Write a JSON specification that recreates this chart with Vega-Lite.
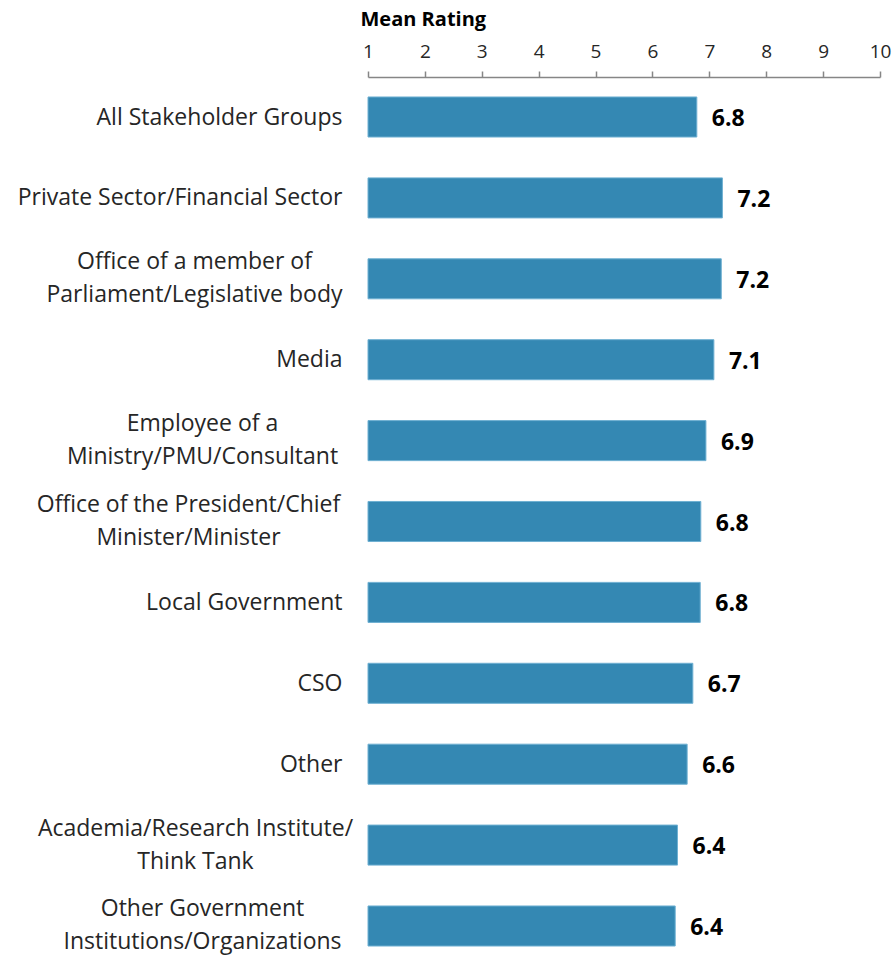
{
  "$schema": "https://vega.github.io/schema/vega-lite/v6.json",
  "width": 512,
  "height": 878,
  "autosize": {"type": "none"},
  "padding": {"left": 368, "top": 77, "right": 14, "bottom": 0},
  "background": "white",
  "config": {"view": {"stroke": null}, "font": "Open Sans"},
  "data": {
    "values": [
      {"group": "All Stakeholder Groups", "rating": 6.78},
      {"group": "Private Sector/Financial Sector", "rating": 7.23},
      {"group": "Office of a member of|Parliament/Legislative body", "rating": 7.21},
      {"group": "Media", "rating": 7.08},
      {"group": "Employee of a|Ministry/PMU/Consultant", "rating": 6.94},
      {"group": "Office of the President/Chief|Minister/Minister", "rating": 6.85},
      {"group": "Local Government", "rating": 6.84},
      {"group": "CSO", "rating": 6.71},
      {"group": "Other", "rating": 6.61},
      {"group": "Academia/Research Institute/|Think Tank", "rating": 6.44},
      {"group": "Other Government|Institutions/Organizations", "rating": 6.4}
    ]
  },
  "encoding": {
    "y": {
      "field": "group",
      "type": "nominal",
      "sort": null,
      "scale": {"paddingInner": 0.505, "paddingOuter": 0.179, "align": 0.69},
      "axis": {
        "title": null,
        "domain": false,
        "ticks": false,
        "labelExpr": "split(datum.label, '|')",
        "labelFont": "Open Sans",
        "labelFontSize": 23,
        "labelColor": "#262626",
        "labelLineHeight": 33,
        "labelLimit": 500,
        "labelBaseline": "middle",
        "labelAlign": {
          "condition": {"test": "indexof(datum.value, '|') >= 0", "value": "center"},
          "value": "right"
        },
        "labelOffset": {
          "condition": {"test": "indexof(datum.value, '|') >= 0", "value": -16.5},
          "value": 0.5
        },
        "labelPadding": {
          "condition": [
            {"test": "datum.value === 'Office of a member of|Parliament/Legislative body'", "value": 174},
            {"test": "datum.value === 'Employee of a|Ministry/PMU/Consultant'", "value": 166},
            {"test": "datum.value === 'Office of the President/Chief|Minister/Minister'", "value": 180},
            {"test": "datum.value === 'Academia/Research Institute/|Think Tank'", "value": 173},
            {"test": "datum.value === 'Other Government|Institutions/Organizations'", "value": 166}
          ],
          "value": 26
        }
      }
    }
  },
  "layer": [
    {
      "mark": {"type": "bar", "color": "#3488b3", "stroke": "#6fb0d2", "strokeWidth": 1},
      "encoding": {
        "x": {
          "field": "rating",
          "type": "quantitative",
          "scale": {"domain": [1, 10], "zero": false, "nice": false},
          "axis": {
            "orient": "top",
            "values": [1, 2, 3, 4, 5, 6, 7, 8, 9, 10],
            "format": "d",
            "grid": false,
            "domainColor": "#868686",
            "domainWidth": 1.5,
            "tickColor": "#868686",
            "tickSize": 6,
            "tickWidth": 1.5,
            "labelFont": "Open Sans",
            "labelFontSize": 19,
            "labelColor": "#262626",
            "labelBaseline": "alphabetic",
            "labelPadding": 14,
            "labelFlush": false,
            "title": "Mean Rating",
            "titleFont": "Open Sans",
            "titleFontSize": 20,
            "titleFontWeight": "bold",
            "titleColor": "#000000",
            "titleAnchor": "start",
            "titleAlign": "left",
            "titleBaseline": "alphabetic",
            "titleX": -8,
            "titleY": -52
          }
        },
        "x2": {"datum": 1}
      }
    },
    {
      "mark": {"type": "text", "align": "left", "baseline": "middle", "dx": 15, "dy": 2, "fontSize": 23, "fontWeight": "bold", "font": "Open Sans", "color": "#000000"},
      "encoding": {
        "x": {"field": "rating", "type": "quantitative"},
        "text": {"field": "rating", "type": "quantitative", "format": ".1f"}
      }
    }
  ]
}
